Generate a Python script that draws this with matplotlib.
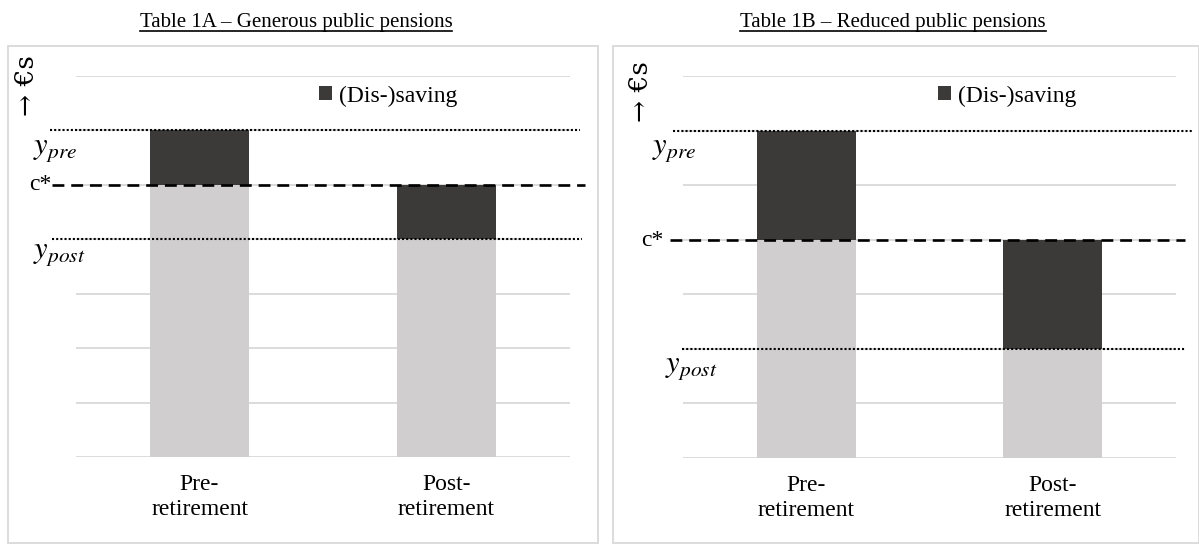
import matplotlib
matplotlib.use('Agg')
import matplotlib.pyplot as plt
from matplotlib.patches import Rectangle
from matplotlib.lines import Line2D

plt.rcParams['font.family'] = ['Liberation Serif', 'DejaVu Serif']
plt.rcParams['mathtext.fontset'] = 'stix'

W, H = 1199, 544

categories = ['Pre-\nretirement', 'Post-\nretirement']

# Table 1A - generous public pensions
consumption_a = [5, 4]
saving_a = [1, 1]
y_pre_a, c_star_a, y_post_a = 6, 5, 4

# Table 1B - reduced public pensions
consumption_b = [4, 2]
saving_b = [2, 2]
y_pre_b, c_star_b, y_post_b = 6, 4, 2

titles = ['Table 1A – Generous public pensions', 'Table 1B – Reduced public pensions']

light = '#d0cecf'
dark = '#3b3a39'
grid = '#d9d9d9'


def px(x, y):
    return x / W, 1 - y / H


fig = plt.figure(figsize=(W / 100, H / 100), dpi=100)

# panel frames
for x0, x1 in [(8, 598), (613, 1199)]:
    fig.patches.append(Rectangle(px(x0, 543), (x1 - x0) / W, (543 - 46) / H,
                                 transform=fig.transFigure, fill=False,
                                 edgecolor=grid, linewidth=1.3))


def draw_panel(rect, cons, sav, y_pre, c_star, y_post, ext):
    ax = fig.add_axes(rect)
    xs = [0.5, 1.5]
    ax.bar(xs, cons, width=0.4, color=light, zorder=2)
    ax.bar(xs, sav, width=0.4, bottom=cons, color=dark, zorder=2, label='(Dis-)saving')
    ax.set_xlim(0, 2)
    ax.set_ylim(0, 7)
    ax.set_yticks(range(8))
    ax.set_yticklabels([])
    ax.grid(axis='y', color=grid, linewidth=1.3, zorder=0)
    ax.set_axisbelow(True)
    for s in ax.spines.values():
        s.set_visible(False)
    ax.tick_params(length=0)
    ax.set_xticks(xs)
    ax.set_xticklabels(categories, fontsize=17, linespacing=1.3)
    ax.tick_params(axis='x', pad=12)

    tr = ax.get_yaxis_transform()
    (a0, a1), (b0, b1), (c0, c1) = ext
    ax.plot([a0, a1], [y_pre, y_pre], transform=tr, color='black', lw=1.5,
            linestyle=(0, (1, 1)), clip_on=False, zorder=3)
    ax.plot([b0, b1], [c_star, c_star], transform=tr, color='black', lw=1.9,
            linestyle=(0, (4.5, 2.6)), clip_on=False, zorder=3)
    ax.plot([c0, c1], [y_post, y_post], transform=tr, color='black', lw=1.5,
            linestyle=(0, (1, 1)), clip_on=False, zorder=3)
    return ax


ax1 = draw_panel([76 / W, 87 / H, 494 / W, 381 / H], consumption_a, saving_a,
                 y_pre_a, c_star_a, y_post_a,
                 [(-0.053, 1.020), (-0.049, 1.030), (-0.049, 1.024)])
ax2 = draw_panel([683 / W, 86 / H, 493 / W, 382 / H], consumption_b, saving_b,
                 y_pre_b, c_star_b, y_post_b,
                 [(-0.020, 1.034), (-0.026, 1.018), (-0.002, 1.018)])

for ax, lx in [(ax1, 319), (ax2, 938)]:
    ax.legend(loc='center left', bbox_to_anchor=px(lx, 96), bbox_transform=fig.transFigure,
              frameon=False, fontsize=17, handlelength=0.55, handleheight=0.55,
              handletextpad=0.3, borderpad=0, borderaxespad=0)

# axis labels
label_pos = [
    dict(arrow=(27, 86), pre=(55, 149), c=(51, 185), post=(59, 253)),
    dict(arrow=(640, 92), pre=(674, 149), c=(663, 240), post=(691, 367)),
]
for p in label_pos:
    fig.text(*px(*p['arrow']), '→ €s', rotation=90, fontsize=19, ha='center', va='center',
             family=['DejaVu Serif'])
    fig.text(*px(*p['pre']), '$y_{pre}$', fontsize=22, ha='center', va='center')
    fig.text(*px(*p['c']), 'c*', fontsize=17, ha='right', va='center')
    fig.text(*px(*p['post']), '$y_{post}$', fontsize=22, ha='center', va='center')

# titles with underline
title_texts = []
for t, cx in zip(titles, [296, 893]):
    title_texts.append(fig.text(*px(cx, 27), t, fontsize=15, ha='center', va='baseline'))

fig.canvas.draw()
inv = fig.transFigure.inverted()
for t in title_texts:
    bb = t.get_window_extent().transformed(inv)
    y = 1 - 31 / H
    fig.add_artist(Line2D([bb.x0, bb.x1], [y, y], transform=fig.transFigure,
                          color='black', linewidth=1.2))

fig.savefig('out.png', dpi=100)
